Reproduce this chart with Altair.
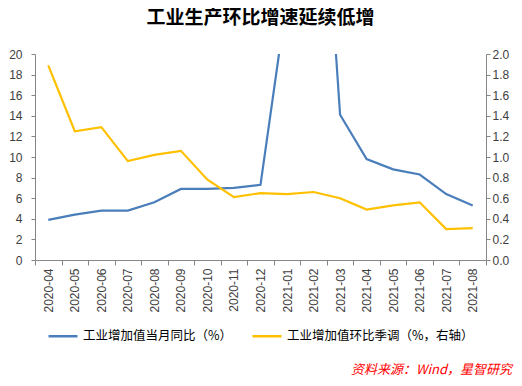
import altair as alt
import pandas as pd

months = ["2020-04", "2020-05", "2020-06", "2020-07", "2020-08", "2020-09",
          "2020-10", "2020-11", "2020-12", "2021-01", "2021-02", "2021-03",
          "2021-04", "2021-05", "2021-06", "2021-07", "2021-08"]
yoy = [3.9, 4.4, 4.8, 4.8, 5.6, 6.9, 6.9, 7.0, 7.3, 25.5, 52.0, 14.1,
       9.8, 8.8, 8.3, 6.4, 5.3]
mom = [1.89, 1.25, 1.29, 0.96, 1.02, 1.06, 0.78, 0.61, 0.65, 0.64, 0.66, 0.60,
       0.49, 0.53, 0.56, 0.30, 0.31]
s1 = "工业增加值当月同比（%）"
s2 = "工业增加值环比季调（%，右轴）"
title_text = "工业生产环比增速延续低增"
source_text = "资料来源：Wind，星智研究"

BLUE = "#4A7EBB"
YELLOW = "#FFC000"
AXC = "#868686"
LBL = "#404040"
NUMFONT = "Liberation Sans"
CJK = "Noto Sans CJK SC"

df1 = pd.DataFrame({"month": months, "value": yoy, "series": s1})
df2 = pd.DataFrame({"month": months, "value": mom, "series": s2})

xenc = alt.X(
    "month:O", sort=months, bandPosition=0.5,
    scale=alt.Scale(type="band", paddingInner=0, paddingOuter=0),
    axis=alt.Axis(title=None, labelAngle=270, tickBand="extent", grid=False,
                  domainColor=AXC, tickColor=AXC, tickSize=5, labelPadding=3,
                  labelFontSize=12, labelFont=NUMFONT, labelColor=LBL),
)

color = alt.Color(
    "series:N",
    scale=alt.Scale(domain=[s1, s2], range=[BLUE, YELLOW]),
    legend=alt.Legend(
        title=None, orient="none", direction="horizontal",
        legendX=12, legendY=266, padding=0,
        symbolType="stroke", symbolSize=841, symbolStrokeWidth=2.5,
        labelFontSize=12.5, labelFont=CJK, labelColor="#000000",
        labelOffset=4, columnPadding=14, labelLimit=400,
    ),
)

left = alt.Chart(df1).mark_line(clip=True, strokeWidth=2.2).encode(
    x=xenc,
    y=alt.Y("value:Q",
            scale=alt.Scale(domain=[0, 20], nice=False),
            axis=alt.Axis(title=None, values=list(range(0, 21, 2)), grid=False,
                          domainColor=AXC, tickColor=AXC, tickSize=4,
                          labelPadding=9, labelFontSize=12, labelFont=NUMFONT,
                          labelColor=LBL)),
    color=color,
)

right = alt.Chart(df2).mark_line(clip=True, strokeWidth=2.2).encode(
    x=xenc,
    y=alt.Y("value:Q",
            scale=alt.Scale(domain=[0, 2], nice=False),
            axis=alt.Axis(title=None, orient="right",
                          values=[0, 0.2, 0.4, 0.6, 0.8, 1.0, 1.2, 1.4, 1.6, 1.8, 2.0],
                          format=".1f", grid=False,
                          domainColor=AXC, tickColor=AXC, tickSize=4,
                          labelPadding=2, labelFontSize=12, labelFont=NUMFONT,
                          labelColor=LBL)),
    color=color,
)

src = alt.Chart(pd.DataFrame({"t": [source_text]})).mark_text(
    align="right", baseline="middle", fontSize=13, fontStyle="italic",
    font=CJK, color="#FF0000",
).encode(text="t:N", x=alt.value(477), y=alt.value(316))

ttl = alt.Chart(pd.DataFrame({"t": [title_text]})).mark_text(
    align="center", baseline="middle", fontSize=19, fontWeight="bold",
    font=CJK, color="#000000",
).encode(text="t:N", x=alt.value(225.5), y=alt.value(-36))

chart = alt.layer(left, right, src, ttl).resolve_scale(y="independent").properties(
    width=451, height=206,
    autosize=alt.AutoSizeParams(type="none"),
    padding={"left": 27, "top": 46, "right": 28, "bottom": 118},
).configure_view(stroke=None)

chart.save("out.html", embed_options={"renderer": "svg", "actions": False})
